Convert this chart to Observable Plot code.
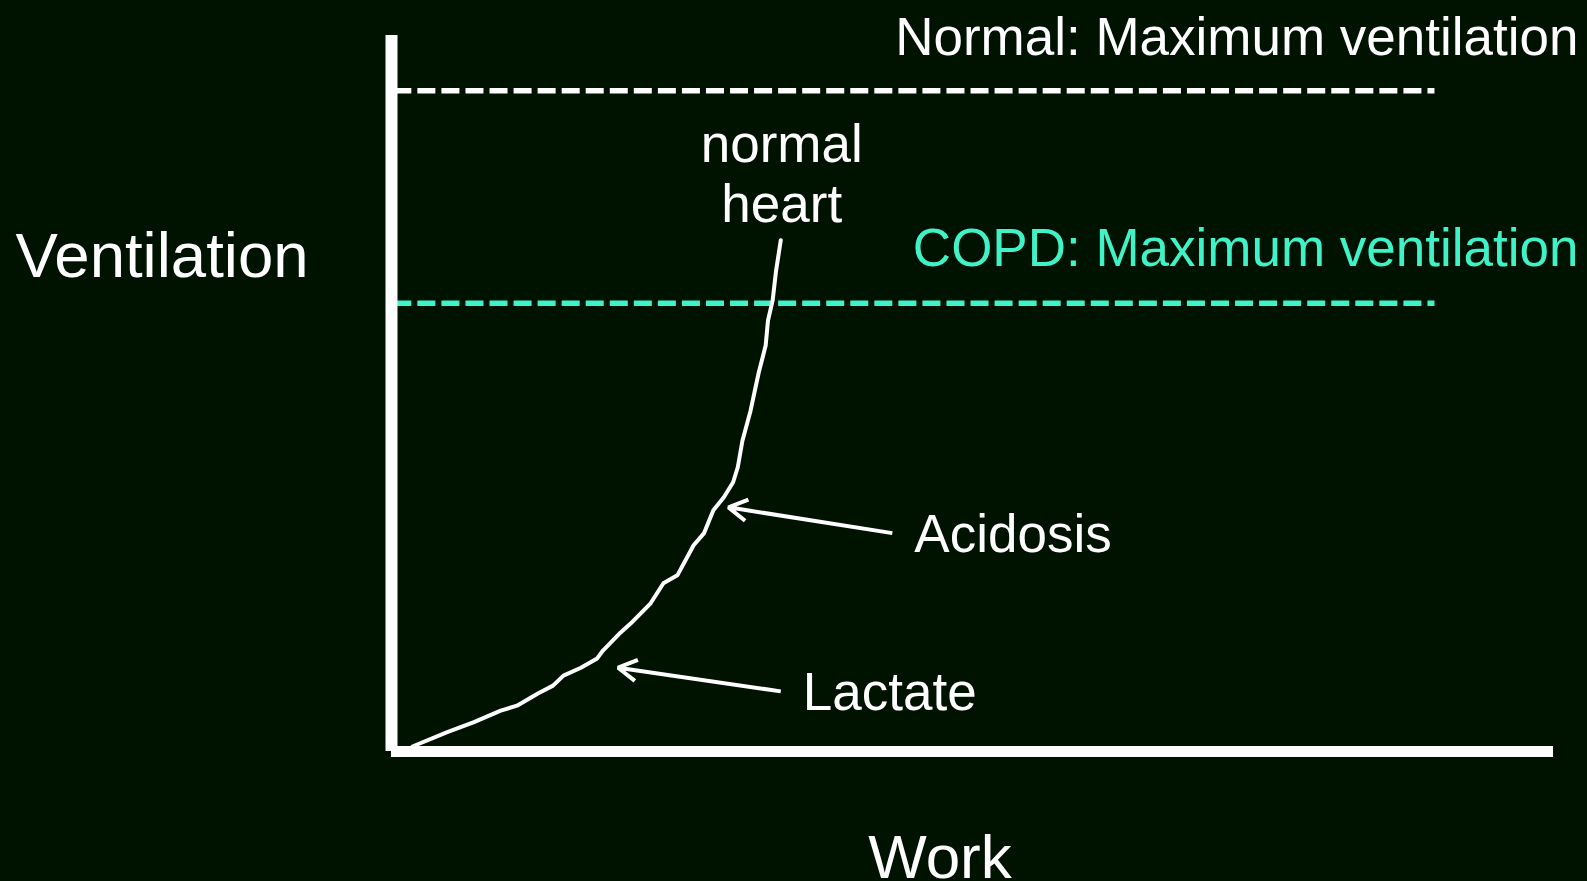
<!DOCTYPE html>
<html>
<head>
<meta charset="utf-8">
<script src="https://cdn.jsdelivr.net/npm/d3@7"></script>
<script src="https://cdn.jsdelivr.net/npm/@observablehq/plot@0.6"></script>
<style>
  html, body { margin: 0; padding: 0; background: #001300; overflow: hidden; }
  #chart svg { display: block; }
</style>
</head>
<body>
<div id="chart"></div>
<script>
// ---- Data (work and ventilation in arbitrary units 0–100) ----
const curveWork = [1.8, 4.8, 7.1, 9.4, 10.8, 12.6, 13.9, 14.8, 16.3, 17.7, 18.2, 19.7, 20.6, 22.3, 23.4, 24.6, 26.0, 26.9, 27.7, 28.6, 29.4, 29.8, 30.2, 30.9, 31.6, 32.2, 32.4, 32.8, 33.1, 33.5];
const curveVentilation = [0.7, 2.7, 4.1, 5.7, 6.4, 8.1, 9.2, 10.6, 11.7, 13.0, 14.1, 16.6, 17.9, 20.7, 23.5, 24.6, 28.8, 30.5, 33.7, 35.5, 37.6, 39.7, 43.4, 47.6, 52.9, 56.7, 60.2, 63.0, 67.2, 71.4];

const limitLabels = ["Normal: Maximum ventilation", "COPD: Maximum ventilation"];
const limitValues = [92.3, 62.6];
const limitStart = 0.2;
const limitEnd = 89.8;

const arrowLabels = ["Acidosis", "Lactate"];
const arrowFromWork = [43.1, 33.5];
const arrowFromVentilation = [30.5, 8.4];
const arrowToWork = [29.0, 19.5];
const arrowToVentilation = [34.1, 11.7];

const curveLabel = "normal\nheart";
const xTitle = "Work";
const yTitle = "Ventilation";

// ---- Build tables ----
const curve = curveWork.map((w, i) => ({work: w, ventilation: curveVentilation[i]}));
const limits = limitLabels.map((label, i) => ({label, value: limitValues[i], x1: limitStart, x2: limitEnd}));
const arrows = arrowLabels.map((label, i) => ({
  label, x1: arrowFromWork[i], y1: arrowFromVentilation[i], x2: arrowToWork[i], y2: arrowToVentilation[i]
}));
const curveTop = curve[curve.length - 1];

const bg = "#001300";
const white = "#ffffff";
const teal = "#3ff2c8";
const font = "'Liberation Sans', Arial, Helvetica, sans-serif";

const chart = Plot.plot({
  width: 1587,
  height: 881,
  marginLeft: 391,
  marginRight: 34,
  marginTop: 35,
  marginBottom: 130,
  x: {domain: [0, 100], axis: null},
  y: {domain: [0, 100], axis: null},
  style: {background: bg, fontFamily: font, color: white, overflow: "visible"},
  marks: [
    // limit lines
    Plot.ruleY(limits, {
      y: "value", x1: "x1", x2: "x2",
      stroke: (d, i) => i === 0 ? white : teal,
      strokeWidth: 5.5, strokeDasharray: "18,6.05"
    }),
    // axes
    Plot.ruleX([0], {y1: 0, y2: 100, stroke: white, strokeWidth: 12}),
    Plot.ruleY([0], {x1: 0, x2: 100, stroke: white, strokeWidth: 11}),
    // curve
    Plot.line(curve, {x: "work", y: "ventilation", stroke: white, strokeWidth: 4, curve: "linear", strokeLinejoin: "round"}),
    // arrows
    Plot.arrow(arrows, {x1: "x1", y1: "y1", x2: "x2", y2: "y2", stroke: white, strokeWidth: 4, headLength: 8, headAngle: 60, strokeLinecap: "butt"}),
    Plot.text(arrows, {x: "x1", y: "y1", text: "label", textAnchor: "start", lineAnchor: "bottom", dx: 22, dy: 19, fontSize: 53, fill: white}),
    // limit labels
    Plot.text(limits.slice(0, 1), {
      y: "value", frameAnchor: "right", text: "label", textAnchor: "end", lineAnchor: "bottom",
      dx: 25, dy: -36, fontSize: 53, fill: white
    }),
    Plot.text(limits.slice(1, 2), {
      y: "value", frameAnchor: "right", text: "label", textAnchor: "end", lineAnchor: "bottom",
      dx: 25, dy: -37, fontSize: 53, fill: teal
    }),
    // curve label
    Plot.text([curveTop], {x: "work", y: "ventilation", text: () => curveLabel, textAnchor: "middle", lineAnchor: "bottom", lineHeight: 1.14, dx: 1, dy: -18, fontSize: 53, fill: white}),
    // axis titles
    Plot.text([yTitle], {frameAnchor: "left", text: d => d, textAnchor: "start", lineAnchor: "bottom", dx: -376, dy: -117, fontSize: 63.5, fill: white}),
    Plot.text([xTitle], {frameAnchor: "bottom", text: d => d, textAnchor: "middle", lineAnchor: "bottom", dx: -32.5, dy: 126, fontSize: 62, fill: white})
  ]
});

document.getElementById("chart").appendChild(chart);
</script>
</body>
</html>
